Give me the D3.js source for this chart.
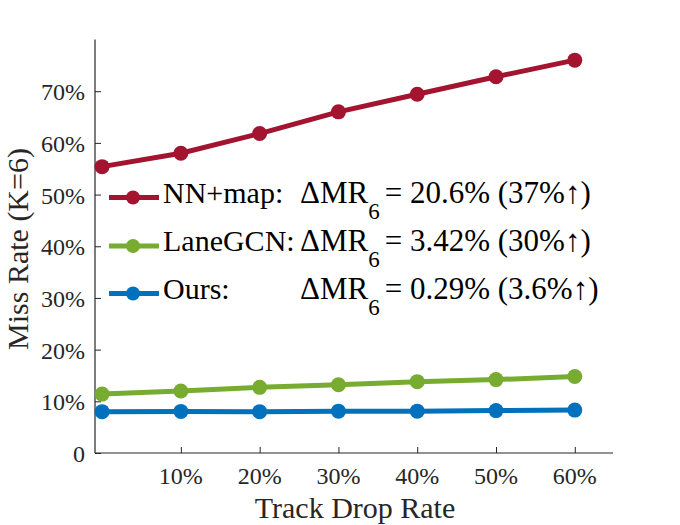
<!DOCTYPE html>
<html>
<head>
<meta charset="utf-8">
<script src="https://cdn.jsdelivr.net/npm/d3@7"></script>
<style>
  body { margin: 0; background: #fff; }
  svg text { font-family: "Liberation Serif", "Times New Roman", serif; fill: #262626; }
</style>
</head>
<body>
<div id="chart"></div>
<script>
var dropRates = [0, 10, 20, 30, 40, 50, 60];
var nnMap = [55.4, 58.0, 61.8, 66.0, 69.4, 72.8, 76.0];
var laneGCN = [11.4, 12.0, 12.7, 13.2, 13.8, 14.2, 14.8];
var ours = [8.0, 8.05, 8.0, 8.1, 8.1, 8.2, 8.3];

var xTicks = [10, 20, 30, 40, 50, 60];
var yTicks = [0, 10, 20, 30, 40, 50, 60, 70];

var seriesNames = ["NN+map:", "LaneGCN:", "Ours:"];
var deltaValues = ["= 20.6% (37%\u2191)", "= 3.42% (30%\u2191)", "= 0.29% (3.6%\u2191)"];
var colors = ["#A2142F", "#77AC30", "#0072BD"];

var width = 680;
var height = 525;

var svg = d3.select("#chart")
    .append("svg")
    .attr("width", width)
    .attr("height", height);

var x_scale = d3.scaleLinear()
    .domain([-0.9, 64.85])
    .range([95, 613]);

var y_scale = d3.scaleLinear()
    .domain([0, 80])
    .range([453, 39.5]);

// axes, ticks pointing inward
var x_axis = d3.axisTop(x_scale)
    .tickValues(xTicks)
    .tickSize(6)
    .tickFormat("");
var y_axis = d3.axisRight(y_scale)
    .tickValues(yTicks)
    .tickSize(6)
    .tickFormat("");

var gx = svg.append("g")
    .attr("transform", "translate(0," + y_scale(0) + ")")
    .call(x_axis);
var gy = svg.append("g")
    .attr("transform", "translate(" + x_scale.range()[0] + ",0)")
    .call(y_axis);

gx.select(".domain")
  .attr("d", "M" + x_scale.range()[0] + ",0H" + x_scale.range()[1]);
gy.select(".domain")
  .attr("d", "M0," + y_scale.range()[0] + "V" + y_scale.range()[1]);
svg.selectAll(".domain").attr("stroke", "#262626").attr("stroke-width", 1.2);
svg.selectAll(".tick line").attr("stroke", "#262626").attr("stroke-width", 1);

// tick labels
svg.selectAll(".xlab")
  .data(xTicks)
  .enter()
  .append("text")
  .attr("class", "xlab")
  .attr("x", function(d) { return x_scale(d); })
  .attr("y", 484)
  .attr("text-anchor", "middle")
  .attr("font-size", 24)
  .text(function(d) { return d + "%"; });

svg.selectAll(".ylab")
  .data(yTicks)
  .enter()
  .append("text")
  .attr("class", "ylab")
  .attr("x", 85)
  .attr("y", function(d) { return y_scale(d) + 9; })
  .attr("text-anchor", "end")
  .attr("font-size", 24)
  .text(function(d) { return d === 0 ? "0" : d + "%"; });

// axis titles
svg.append("text")
  .attr("x", 355)
  .attr("y", 518)
  .attr("text-anchor", "middle")
  .attr("font-size", 30)
  .text("Track Drop Rate");

svg.append("text")
  .attr("transform", "translate(28,249) rotate(-90)")
  .attr("text-anchor", "middle")
  .attr("font-size", 30)
  .text("Miss Rate (K=6)");

// lines and markers
var allSeries = [nnMap, laneGCN, ours];
var line = d3.line()
    .x(function(d, i) { return x_scale(dropRates[i]); })
    .y(function(d) { return y_scale(d); });

allSeries.forEach(function(values, k) {
  svg.append("path")
    .datum(values)
    .attr("d", line)
    .attr("fill", "none")
    .attr("stroke", colors[k])
    .attr("stroke-width", 5);
  svg.selectAll(".pt" + k)
    .data(values)
    .enter()
    .append("circle")
    .attr("class", "pt" + k)
    .attr("cx", function(d, i) { return x_scale(dropRates[i]); })
    .attr("cy", function(d) { return y_scale(d); })
    .attr("r", 7.5)
    .attr("fill", colors[k]);
});

// legend
var legendY = [197.5, 246, 293.5];
var legend = svg.selectAll(".legend")
  .data(seriesNames)
  .enter()
  .append("g")
  .attr("class", "legend")
  .attr("transform", function(d, i) { return "translate(0," + legendY[i] + ")"; });

legend.append("line")
  .attr("x1", 109).attr("x2", 159)
  .attr("y1", 0).attr("y2", 0)
  .attr("stroke", function(d, i) { return colors[i]; })
  .attr("stroke-width", 5);
legend.append("circle")
  .attr("cx", 133).attr("cy", 0).attr("r", 7)
  .attr("fill", function(d, i) { return colors[i]; });
legend.append("text")
  .attr("x", 163).attr("y", 5)
  .attr("font-size", 30)
  .style("fill", "#000")
  .text(function(d) { return d; });

var dt = legend.append("text")
  .attr("x", 300).attr("y", 5)
  .attr("font-size", 31)
  .style("fill", "#000");
dt.append("tspan").text("\u0394MR");
dt.append("tspan").attr("dy", 16).attr("font-size", 23).text("6");
dt.append("tspan").attr("dy", -16).attr("dx", 5).text(function(d, i) { return deltaValues[i]; });
</script>
</body>
</html>
